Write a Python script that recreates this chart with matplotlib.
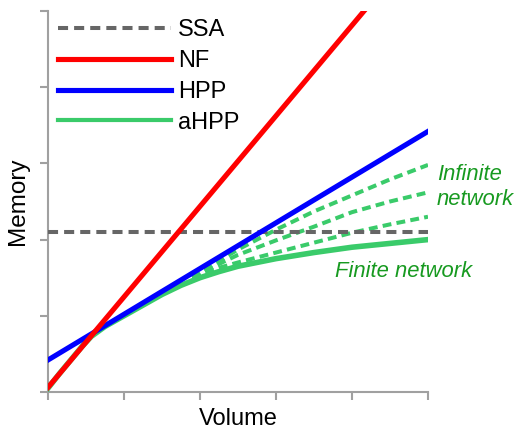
import matplotlib
matplotlib.use("Agg")
import matplotlib.pyplot as plt

# ---- data ----
x_ticks = [0, 1, 2, 3, 4, 5]
y_ticks = [0, 1, 2, 3, 4, 5]

ssa_x = [0, 5]
ssa_y = [2.1, 2.1]

nf_x = [0, 5]
nf_y = [0.06, 6.0]

hpp_x = [0, 5]
hpp_y = [0.42, 3.42]

ahpp_x = [0, 0.15, 0.3, 0.45, 0.57, 0.75, 1.0, 1.25, 1.5, 1.75, 2.0, 2.25,
          2.5, 2.75, 3.0, 3.5, 4.0, 4.5, 5.0]
ahpp_y = [0.05, 0.24, 0.42, 0.60, 0.73, 0.86, 1.0, 1.14, 1.28, 1.40, 1.50, 1.58,
          1.65, 1.70, 1.75, 1.83, 1.90, 1.95, 2.0]

inf_x = [1.9, 2.0, 2.25, 2.5, 3.0, 3.5, 4.0, 4.5, 5.0]
inf_top = [1.50, 1.56, 1.72, 1.87, 2.13, 2.37, 2.58, 2.79, 2.98]
inf_mid = [1.50, 1.55, 1.68, 1.80, 1.99, 2.17, 2.36, 2.50, 2.62]
inf_low = [1.50, 1.54, 1.63, 1.70, 1.83, 1.96, 2.09, 2.20, 2.30]

labels = ["SSA", "NF", "HPP", "aHPP"]

plt.rcParams['font.family'] = ['Liberation Sans', 'DejaVu Sans']

fig = plt.figure(figsize=(5.19, 4.29), dpi=100)
ax = fig.add_axes([48/519, 1-392/429, 380/519, 381/429])

green = '#3acb6a'
tgreen = '#179a20'
lw = 3.7

ax.plot(ssa_x, ssa_y, color='#666666', lw=2.9, ls=(0, (2.5, 1.5)), label=labels[0], zorder=3)
ax.plot(nf_x, nf_y, color='#ff0000', lw=lw, label=labels[1], zorder=5)
for yy in (inf_top, inf_mid, inf_low):
    ax.plot(inf_x, yy, color=green, lw=2.9, ls=(0, (2.2, 1.3)), zorder=2)
ax.plot(ahpp_x, ahpp_y, color=green, lw=4.0, zorder=3)
ax.plot(hpp_x, hpp_y, color='#0000ff', lw=lw, label=labels[2], zorder=4)
ax.plot([], [], color=green, lw=3.0, label=labels[3])

handles, labs = ax.get_legend_handles_labels()
order = [labs.index(l) for l in labels]
leg = ax.legend([handles[i] for i in order], [labs[i] for i in order],
                loc='upper left', bbox_to_anchor=(0.026, 0.978), frameon=False,
                fontsize=17, handlelength=4.8, handletextpad=0.28,
                labelspacing=0.37, borderpad=0, borderaxespad=0)

ax.text(5.12, 2.69, "Infinite\nnetwork", color=tgreen, fontsize=15.8, style='italic',
        ha='left', va='center', linespacing=1.3)
ax.text(3.776, 1.575, "Finite network", color=tgreen, fontsize=15.8, style='italic',
        ha='left', va='center')

ax.set_xlim(0, 5)
ax.set_ylim(0, 5)
ax.set_xticks(x_ticks)
ax.set_yticks(y_ticks)
ax.set_xticklabels([])
ax.set_yticklabels([])
ax.tick_params(direction='out', length=6, width=1.5, color='#a0a0a0')
for s in ['top', 'right']:
    ax.spines[s].set_visible(False)
for s in ['left', 'bottom']:
    ax.spines[s].set_color('#a0a0a0')
    ax.spines[s].set_linewidth(1.5)

ax.set_xlabel("Volume", fontsize=17, labelpad=2)
ax.set_ylabel("Memory", fontsize=17.5, labelpad=4)

fig.savefig("out.png", dpi=100)
